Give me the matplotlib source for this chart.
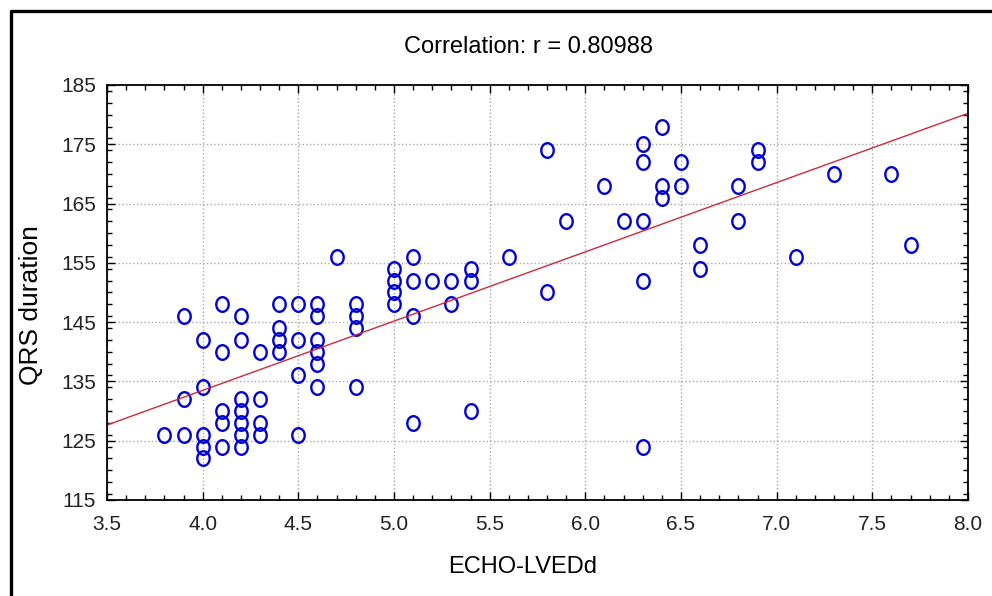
import matplotlib
matplotlib.use("Agg")
import matplotlib.pyplot as plt
import numpy as np
from matplotlib.path import Path
from matplotlib.lines import Line2D
from matplotlib.ticker import MultipleLocator

# values
lvedd = [3.8,
         3.9, 3.9, 3.9,
         4.0, 4.0, 4.0, 4.0, 4.0,
         4.1, 4.1, 4.1, 4.1, 4.1,
         4.2, 4.2, 4.2, 4.2, 4.2, 4.2, 4.2,
         4.3, 4.3, 4.3, 4.3,
         4.4, 4.4, 4.4, 4.4,
         4.5, 4.5, 4.5, 4.5,
         4.6, 4.6, 4.6, 4.6, 4.6, 4.6,
         4.7,
         4.8, 4.8, 4.8, 4.8,
         5.0, 5.0, 5.0, 5.0,
         5.1, 5.1, 5.1, 5.1,
         5.2,
         5.3, 5.3,
         5.4, 5.4, 5.4,
         5.6,
         5.8, 5.8,
         5.9, 6.1, 6.2,
         6.3, 6.3, 6.3, 6.3, 6.3,
         6.4, 6.4, 6.4,
         6.5, 6.5,
         6.6, 6.6,
         6.8, 6.8,
         6.9, 6.9,
         7.1, 7.3, 7.6, 7.7]
qrs = [126,
       146, 132, 126,
       142, 134, 126, 124, 122,
       148, 140, 130, 128, 124,
       146, 142, 132, 130, 128, 126, 124,
       140, 132, 128, 126,
       148, 144, 142, 140,
       148, 142, 136, 126,
       148, 146, 142, 140, 138, 134,
       156,
       148, 146, 144, 134,
       154, 152, 150, 148,
       156, 152, 146, 128,
       152,
       152, 148,
       154, 152, 130,
       156,
       174, 150,
       162, 168, 162,
       175, 172, 162, 152, 124,
       178, 168, 166,
       172, 168,
       158, 154,
       168, 162,
       174, 172,
       156, 170, 170, 158]

x_ticks = [3.5, 4.0, 4.5, 5.0, 5.5, 6.0, 6.5, 7.0, 7.5, 8.0]
y_ticks = [115, 125, 135, 145, 155, 165, 175, 185]

title_txt = "Correlation: r = 0.80988"
x_name = "ECHO-LVEDd"
y_name = "QRS duration"

font = ["Liberation Sans", "DejaVu Sans"]

fig = plt.figure(figsize=(9.92, 5.96), dpi=100)
W, H = 992, 596
ax = fig.add_axes([107 / W, 96 / H, 861 / W, 415 / H])

# slightly squeezed circle, like the reference
t = np.linspace(0, 2 * np.pi, 60)
ell = Path(np.column_stack([0.85 * np.cos(t), np.sin(t)]), closed=True)

ax.plot(lvedd, qrs, linestyle="none", marker=ell, markersize=10.5,
        markerfacecolor="none", markeredgecolor="#0000D0", markeredgewidth=1.7)

k, b = np.polyfit(lvedd, qrs, 1)
xx = np.array([3.5, 8.0])
ax.plot(xx, k * xx + b, color="#CC2A3A", linewidth=1.0)

ax.set_xlim(3.5, 8.0)
ax.set_ylim(115, 185)
ax.set_xticks(x_ticks)
ax.set_xticklabels([f"{v:.1f}" for v in x_ticks])
ax.set_yticks(y_ticks)
ax.set_yticklabels([str(v) for v in y_ticks])
ax.xaxis.set_minor_locator(MultipleLocator(0.1))
ax.yaxis.set_minor_locator(MultipleLocator(2))
ax.tick_params(which="both", direction="in", top=True, right=True, width=1)
ax.tick_params(which="major", length=6)
ax.tick_params(which="minor", length=3.5)
ax.tick_params(axis="x", which="major", pad=11)
ax.tick_params(axis="y", which="major", pad=8)
for lab in ax.get_xticklabels() + ax.get_yticklabels():
    lab.set_family(font)
    lab.set_fontsize(15)
    lab.set_color("#222222")

ax.grid(True, which="major", linestyle=":", color="#A8A8A8", linewidth=1)
for s in ax.spines.values():
    s.set_linewidth(1.3)

ax.set_xlabel(x_name, family=font, fontsize=17)
ax.xaxis.set_label_coords(0.483, -0.135)
ax.set_ylabel(y_name, family=font, fontsize=19)
ax.yaxis.set_label_coords(-0.074, 0.47)
fig.text(529 / W, 1 - 47 / H, title_txt, family=font, fontsize=17,
         ha="center", va="center")

# outer frame (right and bottom edges fall outside the picture)
fig.add_artist(Line2D([10.5 / W, 10.5 / W, 1.05], [-0.05, 1 - 10.5 / H, 1 - 10.5 / H],
                      transform=fig.transFigure, color="black", linewidth=2.4))

fig.savefig("out.png", dpi=100)
